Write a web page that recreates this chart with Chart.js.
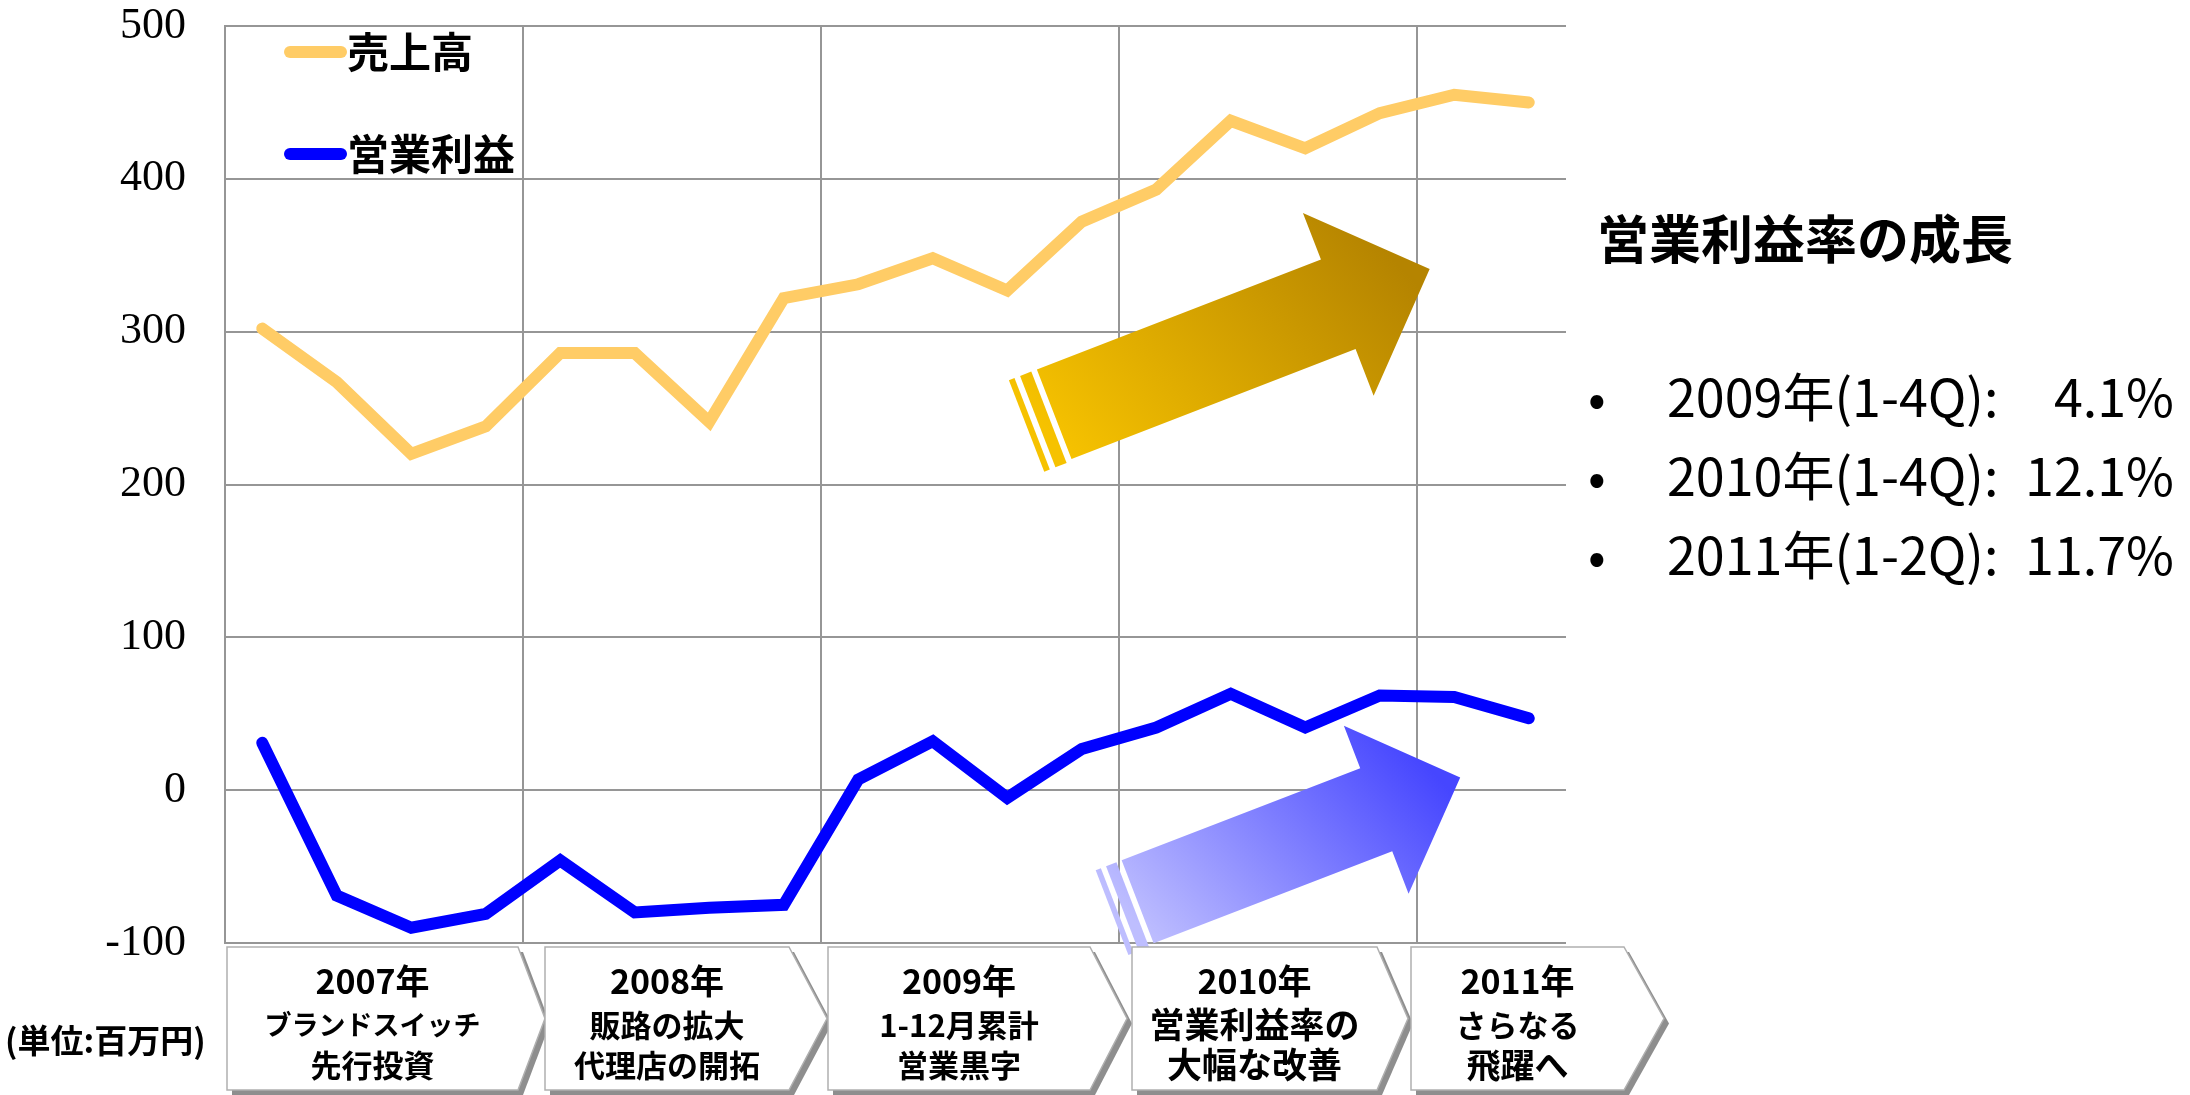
<!DOCTYPE html>
<html lang="ja">
<head>
<meta charset="utf-8">
<title>売上高・営業利益の推移</title>
<script src="https://cdn.jsdelivr.net/npm/chart.js@4.4.1/dist/chart.umd.min.js"></script>
<style>
    html, body { margin: 0; padding: 0; background: #fff; }
    #wrap { position: relative; width: 2190px; height: 1095px; overflow: hidden; }
    #myChart { position: absolute; left: 0; top: 0; }
    .note { position: absolute; font-family: "Noto Sans CJK JP", sans-serif; color: #000; white-space: nowrap; }
    .title { left: 1597px; top: 205px; font-size: 52px; font-weight: bold; line-height: 64px; }
    .row { left: 1588px; width: 586px; font-size: 52px; line-height: 64px; display: flex; }
    .row .dot { width: 79px; }
    .row .lab { flex: 1; }
    .unit { left: 5px; top: 1019px; font-size: 33px; font-weight: bold; line-height: 40px; }
</style>
</head>
<body>
<div id="wrap">
    <canvas id="myChart" width="2190" height="1095"></canvas>
    <div class="note title">営業利益率の成長</div>
    <div class="note row" style="top:363px"><span class="dot">•</span><span class="lab">2009年(1-4Q):</span><span>4.1%</span></div>
    <div class="note row" style="top:442px"><span class="dot">•</span><span class="lab">2010年(1-4Q):</span><span>12.1%</span></div>
    <div class="note row" style="top:521px"><span class="dot">•</span><span class="lab">2011年(1-2Q):</span><span>11.7%</span></div>
    <div class="note unit">(単位:百万円)</div>
</div>
<script>
// 四半期ごとのデータ(百万円)
const quarters = [
    '2007 1Q', '2007 2Q', '2007 3Q', '2007 4Q',
    '2008 1Q', '2008 2Q', '2008 3Q', '2008 4Q',
    '2009 1Q', '2009 2Q', '2009 3Q', '2009 4Q',
    '2010 1Q', '2010 2Q', '2010 3Q', '2010 4Q',
    '2011 1Q', '2011 2Q'
];
const sales = [302, 267, 220, 238, 286, 286, 241, 322, 331, 348, 327, 372, 393, 438, 420, 443, 455, 450];
const profit = [31, -69, -90, -81, -46, -80, -77, -75, 7, 32, -5, 27, 41, 63, 41, 62, 61, 47];
const yTicks = [-100, 0, 100, 200, 300, 400, 500];

// 下の矢印ボックスの文言
const years = ['2007年', '2008年', '2009年', '2010年', '2011年'];
const yearNotes = [
    ['ブランドスイッチ', '先行投資'],
    ['販路の拡大', '代理店の開拓'],
    ['1-12月累計', '営業黒字'],
    ['営業利益率の', '大幅な改善'],
    ['さらなる', '飛躍へ']
];

// ボックスの位置(左端, 右辺, 先端) と文字サイズ
const boxLayout = [[227, 518, 545], [545, 789, 827], [828, 1090, 1127], [1132, 1377, 1408], [1411, 1624, 1664]];
const noteSizes = [[27, 31], [31, 31], [31, 31], [35, 35], [31, 34]];
const boxTop = 947;
const boxBottom = 1090;

// 飾りの矢印(カテゴリ位置, 値 で指定)
const arrows = [
    { from: [10.63, 246], to: [15.67, 341], shaft: 96, head: 196, headLen: 98, light: '#F6C200', dark: '#B58400' },
    { from: [11.75, -73], to: [16.08, 8.3], shaft: 89, head: 180, headLen: 90, light: '#BEBEFF', dark: '#4646FF' }
];

const JP = '"Noto Sans CJK JP", sans-serif';
const gridGray = '#969696';

// 矢印を描く
const arrowPlugin = {
    id: 'arrowPlugin',
    beforeDatasetsDraw(chart) {
        const c = chart.ctx;
        const xs = chart.scales.x;
        const ys = chart.scales.y;
        arrows.forEach(a => {
            const t = { x: xs.getPixelForValue(a.from[0]), y: ys.getPixelForValue(a.from[1]) };
            const p = { x: xs.getPixelForValue(a.to[0]), y: ys.getPixelForValue(a.to[1]) };
            const len = Math.hypot(p.x - t.x, p.y - t.y);
            const u = { x: (p.x - t.x) / len, y: (p.y - t.y) / len };
            const n = { x: -u.y, y: u.x };
            const pt = (o, du, dn) => [o.x + u.x * du + n.x * dn, o.y + u.y * du + n.y * dn];
            const base = { x: p.x - u.x * a.headLen, y: p.y - u.y * a.headLen };

            // 左下が明るく右上が暗いグラデーション
            const g0 = pt(t, 0, a.shaft / 2);
            const top = pt(base, 0, -a.head / 2);
            const grad = c.createLinearGradient(g0[0], g0[1], top[0] + (p.x - top[0]) * 0.4, top[1]);
            grad.addColorStop(0, a.light);
            grad.addColorStop(1, a.dark);

            c.save();
            c.fillStyle = grad;
            const poly = [
                pt(t, 0, -a.shaft / 2), pt(base, 0, -a.shaft / 2), pt(base, 0, -a.head / 2),
                [p.x, p.y], pt(base, 0, a.head / 2), pt(base, 0, a.shaft / 2), pt(t, 0, a.shaft / 2)
            ];
            c.beginPath();
            poly.forEach((q, i) => i ? c.lineTo(q[0], q[1]) : c.moveTo(q[0], q[1]));
            c.closePath();
            c.fill();

            // 尾の二本線
            const k = a.shaft / 96;
            [[6, 18], [24, 30]].forEach(s => {
                const s0 = -s[0] * k, s1 = -s[1] * k;
                const q = [pt(t, s0, -a.shaft / 2), pt(t, s1, -a.shaft / 2), pt(t, s1, a.shaft / 2 + 2), pt(t, s0, a.shaft / 2 + 2)];
                c.beginPath();
                q.forEach((r, i) => i ? c.lineTo(r[0], r[1]) : c.moveTo(r[0], r[1]));
                c.closePath();
                c.fill();
            });
            c.restore();
        });
    }
};

// 凡例(グラフ内左上)
const legendPlugin = {
    id: 'legendPlugin',
    afterDatasetsDraw(chart) {
        const c = chart.ctx;
        const area = chart.chartArea;
        c.save();
        chart.data.datasets.forEach((ds, i) => {
            const y = area.top + 26 + i * 102;
            c.strokeStyle = ds.borderColor;
            c.lineWidth = 12;
            c.lineCap = 'round';
            c.beginPath();
            c.moveTo(area.left + 65, y);
            c.lineTo(area.left + 116, y);
            c.stroke();
            c.fillStyle = '#000';
            c.font = 'bold 42px ' + JP;
            c.textAlign = 'left';
            c.textBaseline = 'middle';
            c.fillText(ds.label, area.left + 122, y);
        });
        c.restore();
    }
};

// 年ごとの矢印ボックス
const boxPlugin = {
    id: 'boxPlugin',
    afterDraw(chart) {
        const c = chart.ctx;
        const mid = (boxTop + boxBottom) / 2;
        const shape = (l, r, tip, dx, dy) => {
            c.beginPath();
            c.moveTo(l + dx, boxTop + dy);
            c.lineTo(r + dx, boxTop + dy);
            c.lineTo(tip + dx, mid + dy);
            c.lineTo(r + dx, boxBottom + dy);
            c.lineTo(l + dx, boxBottom + dy);
            c.closePath();
        };
        c.save();
        boxLayout.forEach((b, i) => {
            shape(b[0], b[1], b[2], 5, 5);
            c.fillStyle = '#8e8e8e';
            c.fill();
            shape(b[0], b[1], b[2], 0, 0);
            c.fillStyle = '#ffffff';
            c.fill();
            c.strokeStyle = '#b0b0b0';
            c.lineWidth = 1.5;
            c.stroke();

            const cx = (b[0] + b[1]) / 2;
            c.fillStyle = '#000';
            c.textAlign = 'center';
            c.textBaseline = 'middle';
            c.font = 'bold 34px ' + JP;
            c.fillText(years[i], cx, 981);
            c.font = 'bold ' + noteSizes[i][0] + 'px ' + JP;
            c.fillText(yearNotes[i][0], cx, 1025);
            c.font = 'bold ' + noteSizes[i][1] + 'px ' + JP;
            c.fillText(yearNotes[i][1], cx, 1065);
        });
        c.restore();
    }
};

const ctx = document.getElementById('myChart');

const myChart = new Chart(ctx, {
    type: 'line',
    data: {
        labels: quarters,
        datasets: [
            {
                label: '売上高',
                data: sales,
                borderColor: '#FFCC66',
                borderWidth: 12,
                borderCapStyle: 'round',
                pointRadius: 0,
                fill: false
            },
            {
                label: '営業利益',
                data: profit,
                borderColor: '#0000FF',
                borderWidth: 12,
                borderCapStyle: 'round',
                pointRadius: 0,
                fill: false
            }
        ]
    },
    options: {
        responsive: false,
        animation: false,
        devicePixelRatio: 1,
        layout: {
            padding: { left: 0, right: 624, top: 26, bottom: 152 }
        },
        plugins: {
            legend: { display: false },
            tooltip: { enabled: false }
        },
        scales: {
            x: {
                offset: true,
                ticks: { display: false },
                grid: {
                    offset: true,
                    drawTicks: false,
                    lineWidth: 2,
                    color: (c) => (c.index > 0 && c.index % 4 === 0) ? gridGray : 'rgba(0,0,0,0)'
                },
                border: { display: false }
            },
            y: {
                min: -100,
                max: 500,
                afterBuildTicks: (scale) => {
                    scale.ticks = yTicks.map(v => ({ value: v }));
                },
                afterFit: (scale) => {
                    // 目盛りの余白が上端を押し下げないようにする
                    scale.width = 225;
                    scale.paddingTop = 0;
                    scale.paddingBottom = 0;
                },
                ticks: {
                    color: '#000',
                    padding: 39,
                    font: { family: '"Liberation Serif", serif', size: 44 }
                },
                grid: {
                    color: gridGray,
                    lineWidth: 2,
                    drawTicks: false
                },
                border: { display: true, color: gridGray, width: 2 }
            }
        }
    },
    plugins: [arrowPlugin, legendPlugin, boxPlugin]
});
</script>
</body>
</html>
